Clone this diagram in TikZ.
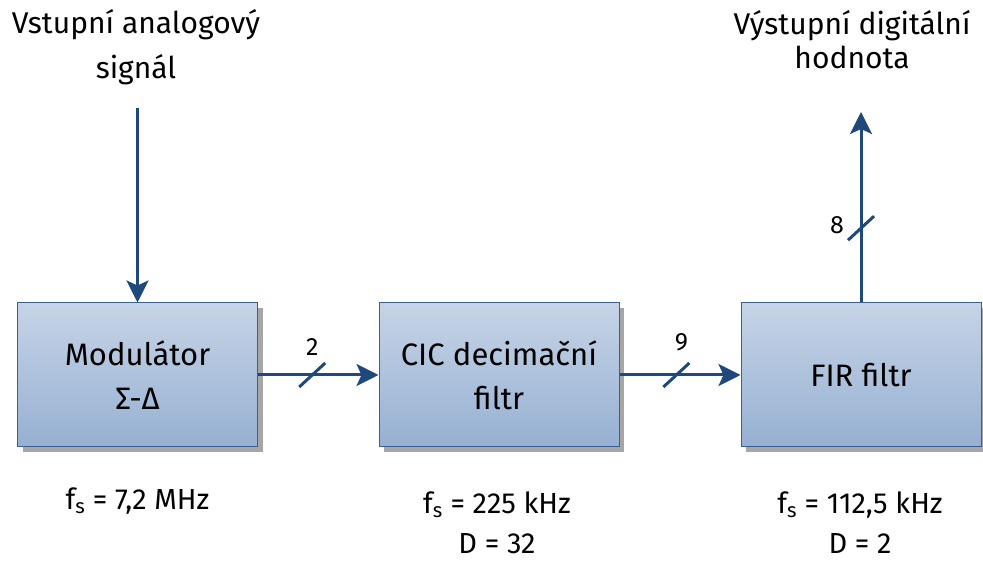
\documentclass[tikz,border=0pt]{standalone}
\usepackage{fontspec}
\setmainfont{Fira Sans}
\usetikzlibrary{arrows.meta,shadows}
\definecolor{linkblue}{RGB}{31,73,125}
\definecolor{boxline}{RGB}{58,95,147}
\definecolor{boxtop}{RGB}{198,212,230}
\definecolor{boxbottom}{RGB}{150,176,210}
\tikzset{
  block/.style={draw=boxline, line width=1pt, top color=boxtop, bottom color=boxbottom,
    minimum width=240pt, minimum height=144pt, align=center, font=\fontsize{31}{44}\selectfont,
    drop shadow={shadow xshift=5pt, shadow yshift=-5pt, fill=black!35, opacity=1}},
  bus/.style={draw=linkblue, line width=3pt, -{Stealth[length=22pt,width=22pt,inset=5pt]}},
  busslash/.style={draw=linkblue, line width=3pt},
  buslabel/.style={font=\fontsize{25}{30}\selectfont},
  caption/.style={align=center, font=\fontsize{30}{45}\selectfont},
  rate/.style={align=center, inner sep=0pt, font=\fontsize{29}{40}\selectfont}
}
\begin{document}
\begin{tikzpicture}[x=1pt,y=1pt]
\useasboundingbox (0,0) rectangle (983,561);
\node[block] (mod) at (137.5,186) {Modulátor\\Σ-Δ};
\node[block] (cic) at (499,186) {CIC decimační\\filtr};
\node[block] (fir) at (861,186) {FIR filtr};
\node[caption] (inlabel) at (136,514) {Vstupní analogový\\signál};
\node[caption, font=\fontsize{30}{34}\selectfont] (outlabel) at (852,521) {Výstupní digitální\\hodnota};
\coordinate (src) at (137.5,453); \coordinate (dst) at (861,449);
\draw[bus] (src) -- (mod.north);
\draw[bus] (mod.east) -- (cic.west) coordinate[pos=0.45] (s2);
\draw[bus] (cic.east) -- (fir.west) coordinate[pos=0.47] (s9);
\draw[bus] (fir.north) -- (dst) coordinate[pos=0.39] (s8);
\draw[busslash] ([shift={(-13,-12)}]s2) -- ([shift={(13,12)}]s2); \node[buslabel] (n2) at ([shift={(0,28)}]s2) {2};
\draw[busslash] ([shift={(-13,-12)}]s9) -- ([shift={(13,12)}]s9); \node[buslabel] (n9) at ([shift={(5,33)}]s9) {9};
\draw[busslash] ([shift={(-13,-12)}]s8) -- ([shift={(13,12)}]s8); \node[buslabel] (n8) at ([shift={(-24,3)}]s8) {8};
\node[rate] (ratemod) at (137.5,60) {f\textsubscript{s} = 7,2 MHz};
\node[rate] (ratecic) at (497,38) {f\textsubscript{s} = 225 kHz\\D = 32};
\node[rate] (ratefir) at (860,38) {f\textsubscript{s} = 112,5 kHz\\D = 2};
\end{tikzpicture}
\end{document}
